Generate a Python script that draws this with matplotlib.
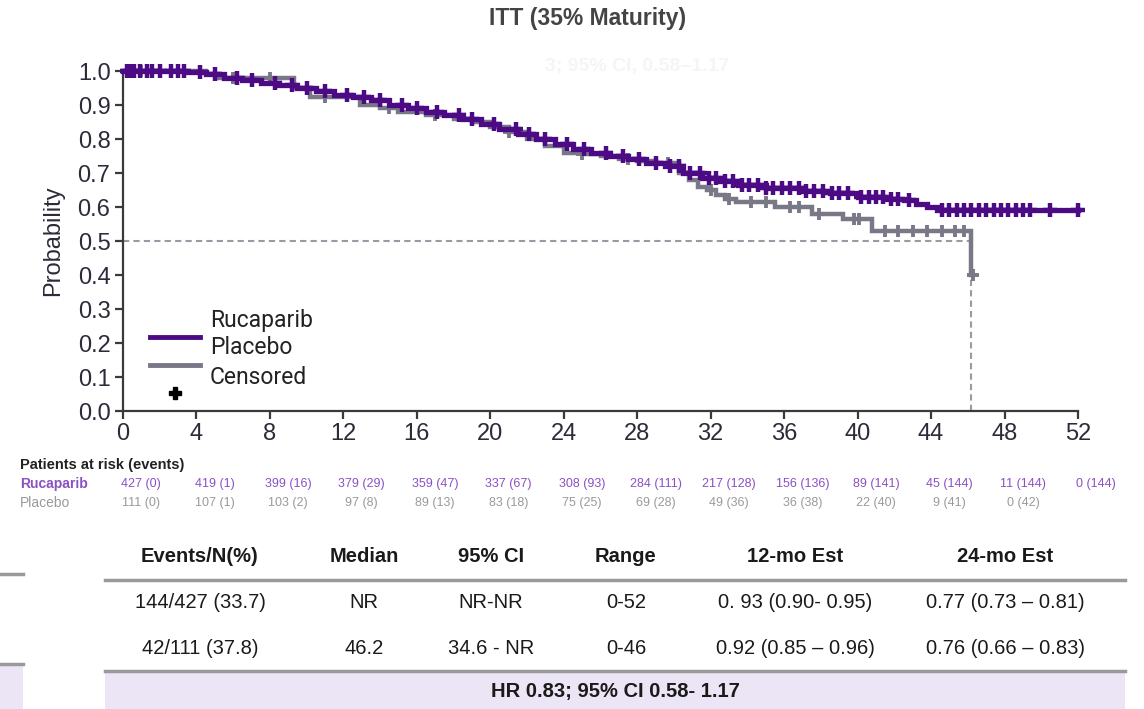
import numpy as np
import matplotlib
matplotlib.use("Agg")
import matplotlib.pyplot as plt
from matplotlib.transforms import blended_transform_factory
from matplotlib.lines import Line2D
from matplotlib.patches import Rectangle

# ---------------- data ----------------
title = "ITT (35% Maturity)"
arm_names = ["Rucaparib", "Placebo"]

ruc_times = [0, 3.5, 4.5, 5.5, 6.5, 7.5, 8.5, 9.5, 10.5, 11.5, 12.5, 13.5, 14.5, 15.5,
             16.5, 17.5, 18.5, 19.5, 20.5, 21.5, 22.5, 23.5, 24.5, 25.5, 26.5, 27.5,
             28.5, 29.5, 30.5, 31.5, 32.5, 33.5, 35.0, 37.0, 38.5, 40.0, 41.5, 42.5,
             43.2, 43.8, 44.3]
ruc_surv = [1.0, 0.997, 0.99, 0.98, 0.975, 0.965, 0.96, 0.95, 0.94, 0.93, 0.925, 0.915,
            0.90, 0.89, 0.88, 0.87, 0.86, 0.845, 0.83, 0.815, 0.80, 0.785, 0.77, 0.76,
            0.75, 0.74, 0.73, 0.72, 0.70, 0.685, 0.675, 0.665, 0.655, 0.648, 0.64, 0.63,
            0.625, 0.62, 0.61, 0.60, 0.59]
ruc_end = 52.0
ruc_censor = [0.2, 0.4, 0.6, 0.9, 1.3, 1.6, 2.0, 2.6, 3.0, 3.3, 4.2, 5.0, 6.2, 7.0, 8.3,
              9.2, 10.0, 11.0, 12.2, 13.1, 14.0, 15.2, 16.0, 17.1, 18.3, 19.0, 20.2, 21.4,
              22.1, 23.0, 24.2, 25.1, 26.3, 27.2, 28.1, 29.0, 29.8, 30.3, 30.9, 31.4, 31.9,
              32.3, 32.8, 33.2, 33.7, 34.1, 34.6, 35.0, 35.4, 35.9, 36.3, 36.8, 37.2, 37.6,
              38.1, 38.6, 39.0, 39.5, 40.2, 40.6, 41.0, 41.4, 41.8, 42.2, 42.8, 44.6, 45.0,
              45.4, 45.8, 46.2, 46.6, 47.0, 47.4, 47.8, 48.2, 48.6, 49.0, 49.4, 50.5, 52.0]

pla_times = [0, 4.5, 5.2, 9.3, 10.2, 12.9, 14.0, 15.0, 16.5, 18.0, 19.0, 20.0, 21.0, 22.0,
             23.0, 24.0, 25.0, 26.0, 27.0, 28.0, 29.0, 30.3, 30.8, 31.3, 31.8, 32.3, 32.8,
             33.4, 35.5, 37.5, 39.2, 40.8, 46.2]
pla_surv = [1.0, 0.99, 0.98, 0.95, 0.925, 0.90, 0.89, 0.88, 0.87, 0.86, 0.85, 0.835, 0.82,
            0.80, 0.78, 0.76, 0.755, 0.75, 0.74, 0.735, 0.73, 0.70, 0.68, 0.66, 0.65, 0.635,
            0.625, 0.615, 0.60, 0.58, 0.565, 0.53, 0.40]
pla_end = 46.3
pla_censor = [1.0, 3.0, 6.0, 8.0, 11.0, 14.5, 17.0, 21.0, 25.0, 27.5, 29.7, 32.0, 33.0,
              34.2, 35.0, 36.3, 36.8, 37.9, 39.8, 40.1, 41.5, 42.2, 43.0, 43.8, 44.6, 45.3,
              45.8, 46.3]

median_placebo = 46.2

x_ticks = [0, 4, 8, 12, 16, 20, 24, 28, 32, 36, 40, 44, 48, 52]
y_ticks = [0.0, 0.1, 0.2, 0.3, 0.4, 0.5, 0.6, 0.7, 0.8, 0.9, 1.0]

ruc_at_risk = ["427 (0)", "419 (1)", "399 (16)", "379 (29)", "359 (47)", "337 (67)",
               "308 (93)", "284 (111)", "217 (128)", "156 (136)", "89 (141)", "45 (144)",
               "11 (144)", "0 (144)"]
pla_at_risk = ["111 (0)", "107 (1)", "103 (2)", "97 (8)", "89 (13)", "83 (18)", "75 (25)",
               "69 (28)", "49 (36)", "36 (38)", "22 (40)", "9 (41)", "0 (42)"]

table_header = ["Events/N(%)", "Median", "95% CI", "Range", "12-mo Est", "24-mo Est"]
table_rows = [["144/427 (33.7)", "NR", "NR-NR", "0-52", "0. 93 (0.90- 0.95)", "0.77 (0.73 \u2013 0.81)"],
              ["42/111 (37.8)", "46.2", "34.6 - NR", "0-46", "0.92 (0.85 \u2013 0.96)", "0.76 (0.66 \u2013 0.83)"]]
hr_text = "HR 0.83; 95% CI 0.58- 1.17"

# ---------------- style ----------------
PURPLE = "#4d0a85"
GRAY = "#787887"
TXT = "#2b2b3a"
RISK_PURPLE = "#8a50c4"
RISK_GRAY = "#9a9a9a"
LAV = "#ece5f6"
SANS = ["Liberation Sans", "DejaVu Sans"]

W, H = 1144, 709
fig = plt.figure(figsize=(W / 100, H / 100), dpi=100)
fig.patch.set_facecolor("white")


def fx(px):
    return px / W


def fy(py):
    return 1 - py / H


ax = fig.add_axes([fx(123), fy(411), fx(1078) - fx(123), fy(71) - fy(411)])
ax.set_xlim(0, 52)
ax.set_ylim(0, 1.0)

# median dashed lines
ax.plot([0, median_placebo], [0.5, 0.5], ls=(0, (3, 2)), color="#9a9aa4", lw=1.5, zorder=1)
ax.plot([median_placebo, median_placebo], [0, 0.40], ls=(0, (3, 2)), color="#9a9aa4", lw=1.5,
        zorder=1, clip_on=False)


def km(times, surv, end, censor, color, z, lw, ms, mew):
    t = list(times) + [end]
    s = list(surv) + [surv[-1]]
    ax.step(t, s, where="post", color=color, lw=lw, zorder=z, clip_on=False,
            solid_joinstyle="miter")
    ct = np.array(censor)
    idx = np.searchsorted(np.array(times), ct, side="right") - 1
    cs = np.array(surv)[idx]
    ax.plot(ct, cs, ls="none", marker="+", ms=ms, mew=mew, color=color, zorder=z,
            clip_on=False)


km(pla_times, pla_surv, pla_end, pla_censor, GRAY, 3, 3.2, 8, 2.8)
km(ruc_times, ruc_surv, ruc_end, ruc_censor, PURPLE, 4, 3.8, 9.5, 3.2)

for side in ["top", "right"]:
    ax.spines[side].set_visible(False)
for side in ["left", "bottom"]:
    ax.spines[side].set_color("#3a3a3a")
    ax.spines[side].set_linewidth(1.6)

ax.set_xticks(x_ticks)
ax.set_yticks(y_ticks)
ax.set_yticklabels([f"{v:.1f}" for v in y_ticks])
ax.tick_params(axis="both", direction="out", length=6, width=1.6, color="#3a3a3a",
               labelsize=17, labelcolor=TXT, pad=3)
for lab in ax.get_xticklabels() + ax.get_yticklabels():
    lab.set_family(SANS)
ax.set_ylabel("Probability", fontsize=17, family=SANS, color=TXT, labelpad=10)

# legend (manual layout)
lt = ax.transAxes
def ax_pt(px, py):
    return ((px - 123) / (1078 - 123), (411 - py) / (411 - 71))

for (py, color) in [(337, PURPLE), (365, GRAY)]:
    x0, y0 = ax_pt(150, py)
    x1, _ = ax_pt(200, py)
    ax.add_line(Line2D([x0, x1], [y0, y0], transform=lt, color=color, lw=3.5, zorder=5))
for text, py in zip(arm_names + ["Censored"], [320, 348, 377]):
    x0, y0 = ax_pt(210, py)
    ax.text(x0, y0, text, transform=lt, fontsize=16.5, family=["Roboto", "DejaVu Sans"],
            color="#222222", va="center", ha="left")
xm, ym = ax_pt(175, 393)
ax.plot([xm], [ym], transform=lt, marker="P", ms=9, color="black", ls="none", zorder=6)

# faint ghost text
fig.text(fx(545), fy(67), "3; 95% CI, 0.58\u20131.17", fontsize=14, color="#f5f5f5",
         family=SANS, va="center", fontweight="bold")

# title
fig.text(fx(588), fy(19), title, fontsize=16.5, fontweight="bold", color="#444444",
         ha="center", va="center", family=SANS)

# patients at risk
bt = blended_transform_factory(ax.transData, fig.transFigure)
fig.text(fx(20), fy(465), "Patients at risk (events)", fontsize=10.5, fontweight="bold",
         color="#222222", va="center", family=SANS)
fig.text(fx(20), fy(484), arm_names[0], fontsize=10, fontweight="bold", color=RISK_PURPLE,
         va="center", family=SANS)
fig.text(fx(20), fy(503), arm_names[1], fontsize=10, color=RISK_GRAY, va="center",
         family=SANS)
for xt, lab in zip(x_ticks, ruc_at_risk):
    ax.text(xt + 1.0, fy(484), lab, transform=bt, fontsize=9, color=RISK_PURPLE,
            ha="center", va="center", family=SANS)
for xt, lab in zip(x_ticks, pla_at_risk):
    ax.text(xt + 1.0, fy(503), lab, transform=bt, fontsize=9, color=RISK_GRAY,
            ha="center", va="center", family=SANS)

# bottom table
col_x = [200, 364, 491, 626, 795, 1005]
fig.add_artist(Rectangle((fx(105), 0), fx(1125) - fx(105), fy(671), transform=fig.transFigure,
                         facecolor=LAV, edgecolor="none"))
fig.add_artist(Rectangle((0, 0), fx(23), fy(664), transform=fig.transFigure,
                         facecolor=LAV, edgecolor="none"))
for (xa, xb, py) in [(105, 1125, 580), (105, 1125, 671), (0, 23, 574), (0, 23, 664)]:
    fig.add_artist(Line2D([fx(xa), fx(xb)], [fy(py), fy(py)], transform=fig.transFigure,
                          color="#9a9a9a", lw=2.5))
for cx, h in zip(col_x, table_header):
    fig.text(fx(cx), fy(557), h, fontsize=14.5, fontweight="bold", family=SANS,
             color="#1a1a1a", ha="center", va="center")
for row, py in zip(table_rows, [603, 649]):
    for cx, v in zip(col_x, row):
        fig.text(fx(cx), fy(py), v, fontsize=14.5, family=SANS, color="#1a1a1a",
                 ha="center", va="center")
fig.text(fx(615), fy(692), hr_text, fontsize=14.5, fontweight="bold", family=SANS,
         color="#1a1a1a", ha="center", va="center")

fig.savefig("out.png", dpi=100)
